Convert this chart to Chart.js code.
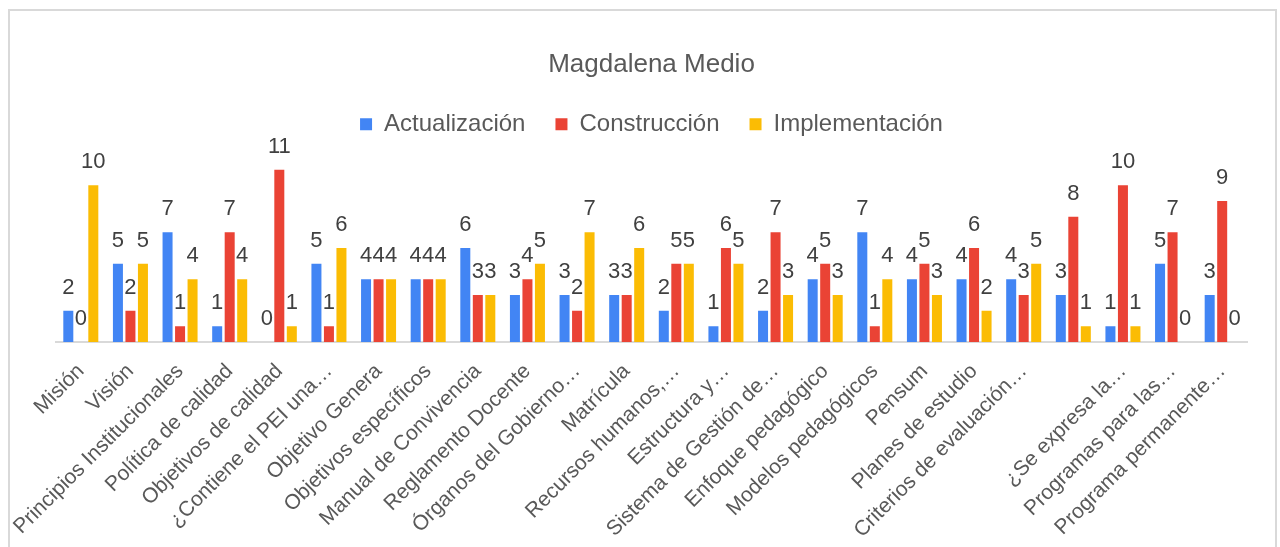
<!DOCTYPE html>
<html>
<head>
<meta charset="utf-8">
<script src="https://cdn.jsdelivr.net/npm/chart.js@4/dist/chart.umd.min.js"></script>
<style>
  html, body { margin: 0; padding: 0; background: #fff; overflow: hidden; }
  #wrap { position: relative; width: 1280px; height: 547px; }
  #frame { position: absolute; left: 8px; top: 9px; width: 1269px; height: 600px;
           box-sizing: border-box; border: 2px solid #d9d9d9; border-bottom: none; pointer-events: none; }
</style>
</head>
<body>
<div id="wrap">
  <canvas id="grafico" width="1280" height="547"></canvas>
  <div id="frame"></div>
</div>
<script>
const categorias = [
  'Misión', 'Visión', 'Principios Institucionales', 'Política de calidad',
  'Objetivos de calidad', '¿Contiene el PEI una…', 'Objetivo Genera', 'Objetivos específicos',
  'Manual de Convivencia', 'Reglamento Docente', 'Órganos del Gobierno…', 'Matrícula',
  'Recursos humanos,…', 'Estructura y…', 'Sistema de Gestión de…', 'Enfoque pedagógico',
  'Modelos pedagógicos', 'Pensum', 'Planes de estudio', 'Criterios de evaluación…',
  '', '¿Se expresa la…', 'Programas para las…', 'Programa permanente…'
];
const actualizacion  = [2, 5, 7, 1, 0, 5, 4, 4, 6, 3, 3, 3, 2, 1, 2, 4, 7, 4, 4, 4, 3, 1, 5, 3];
const construccion   = [0, 2, 1, 7, 11, 1, 4, 4, 3, 4, 2, 3, 5, 6, 7, 5, 1, 5, 6, 3, 8, 10, 7, 9];
const implementacion = [10, 5, 4, 4, 1, 6, 4, 4, 3, 5, 7, 6, 5, 5, 3, 3, 4, 3, 2, 5, 1, 1, 0, 0];

const gris = '#595959';

// etiquetas de valor encima de cada barra
const etiquetasValor = {
  id: 'etiquetasValor',
  afterDatasetsDraw(chart) {
    const ctx = chart.ctx;
    ctx.save();
    ctx.font = '22px "Liberation Sans", Arial, sans-serif';
    ctx.fillStyle = '#404040';
    ctx.textAlign = 'center';
    ctx.textBaseline = 'alphabetic';
    chart.data.datasets.forEach((ds, i) => {
      chart.getDatasetMeta(i).data.forEach((bar, j) => {
        ctx.fillText(String(ds.data[j]), bar.x, bar.y - 17);
      });
    });
    ctx.restore();
  }
};

new Chart(document.getElementById('grafico'), {
  type: 'bar',
  data: {
    labels: categorias,
    datasets: [
      { label: 'Actualización', data: actualizacion, backgroundColor: '#4285F4' },
      { label: 'Construcción', data: construccion, backgroundColor: '#EA4335' },
      { label: 'Implementación', data: implementacion, backgroundColor: '#FBBC04' }
    ]
  },
  options: {
    responsive: false,
    animation: false,
    categoryPercentage: 0.756,
    barPercentage: 0.8,
    layout: { padding: { top: 0, left: 56, right: 33, bottom: 0 } },
    plugins: {
      title: {
        display: true,
        text: 'Magdalena Medio',
        color: gris,
        font: { family: '"Liberation Sans", Arial, sans-serif', size: 26, weight: 'normal' },
        padding: { top: 49, bottom: 2 }
      },
      legend: {
        position: 'top',
        labels: {
          color: gris,
          boxWidth: 12,
          boxHeight: 12,
          padding: 30,
          font: { family: '"Liberation Sans", Arial, sans-serif', size: 24 }
        }
      },
      tooltip: { enabled: false }
    },
    scales: {
      x: {
        grid: { display: false, drawTicks: false },
        border: { display: true, color: '#d9d9d9', width: 2 },
        afterFit: (escala) => { escala.height = 205; },
        ticks: {
          color: gris,
          autoSkip: false,
          maxRotation: 45,
          minRotation: 45,
          padding: 17,
          font: { family: '"Liberation Sans", Arial, sans-serif', size: 21 }
        }
      },
      y: {
        display: false,
        min: 0,
        max: 12.5
      }
    }
  },
  plugins: [etiquetasValor]
});
</script>
</body>
</html>
